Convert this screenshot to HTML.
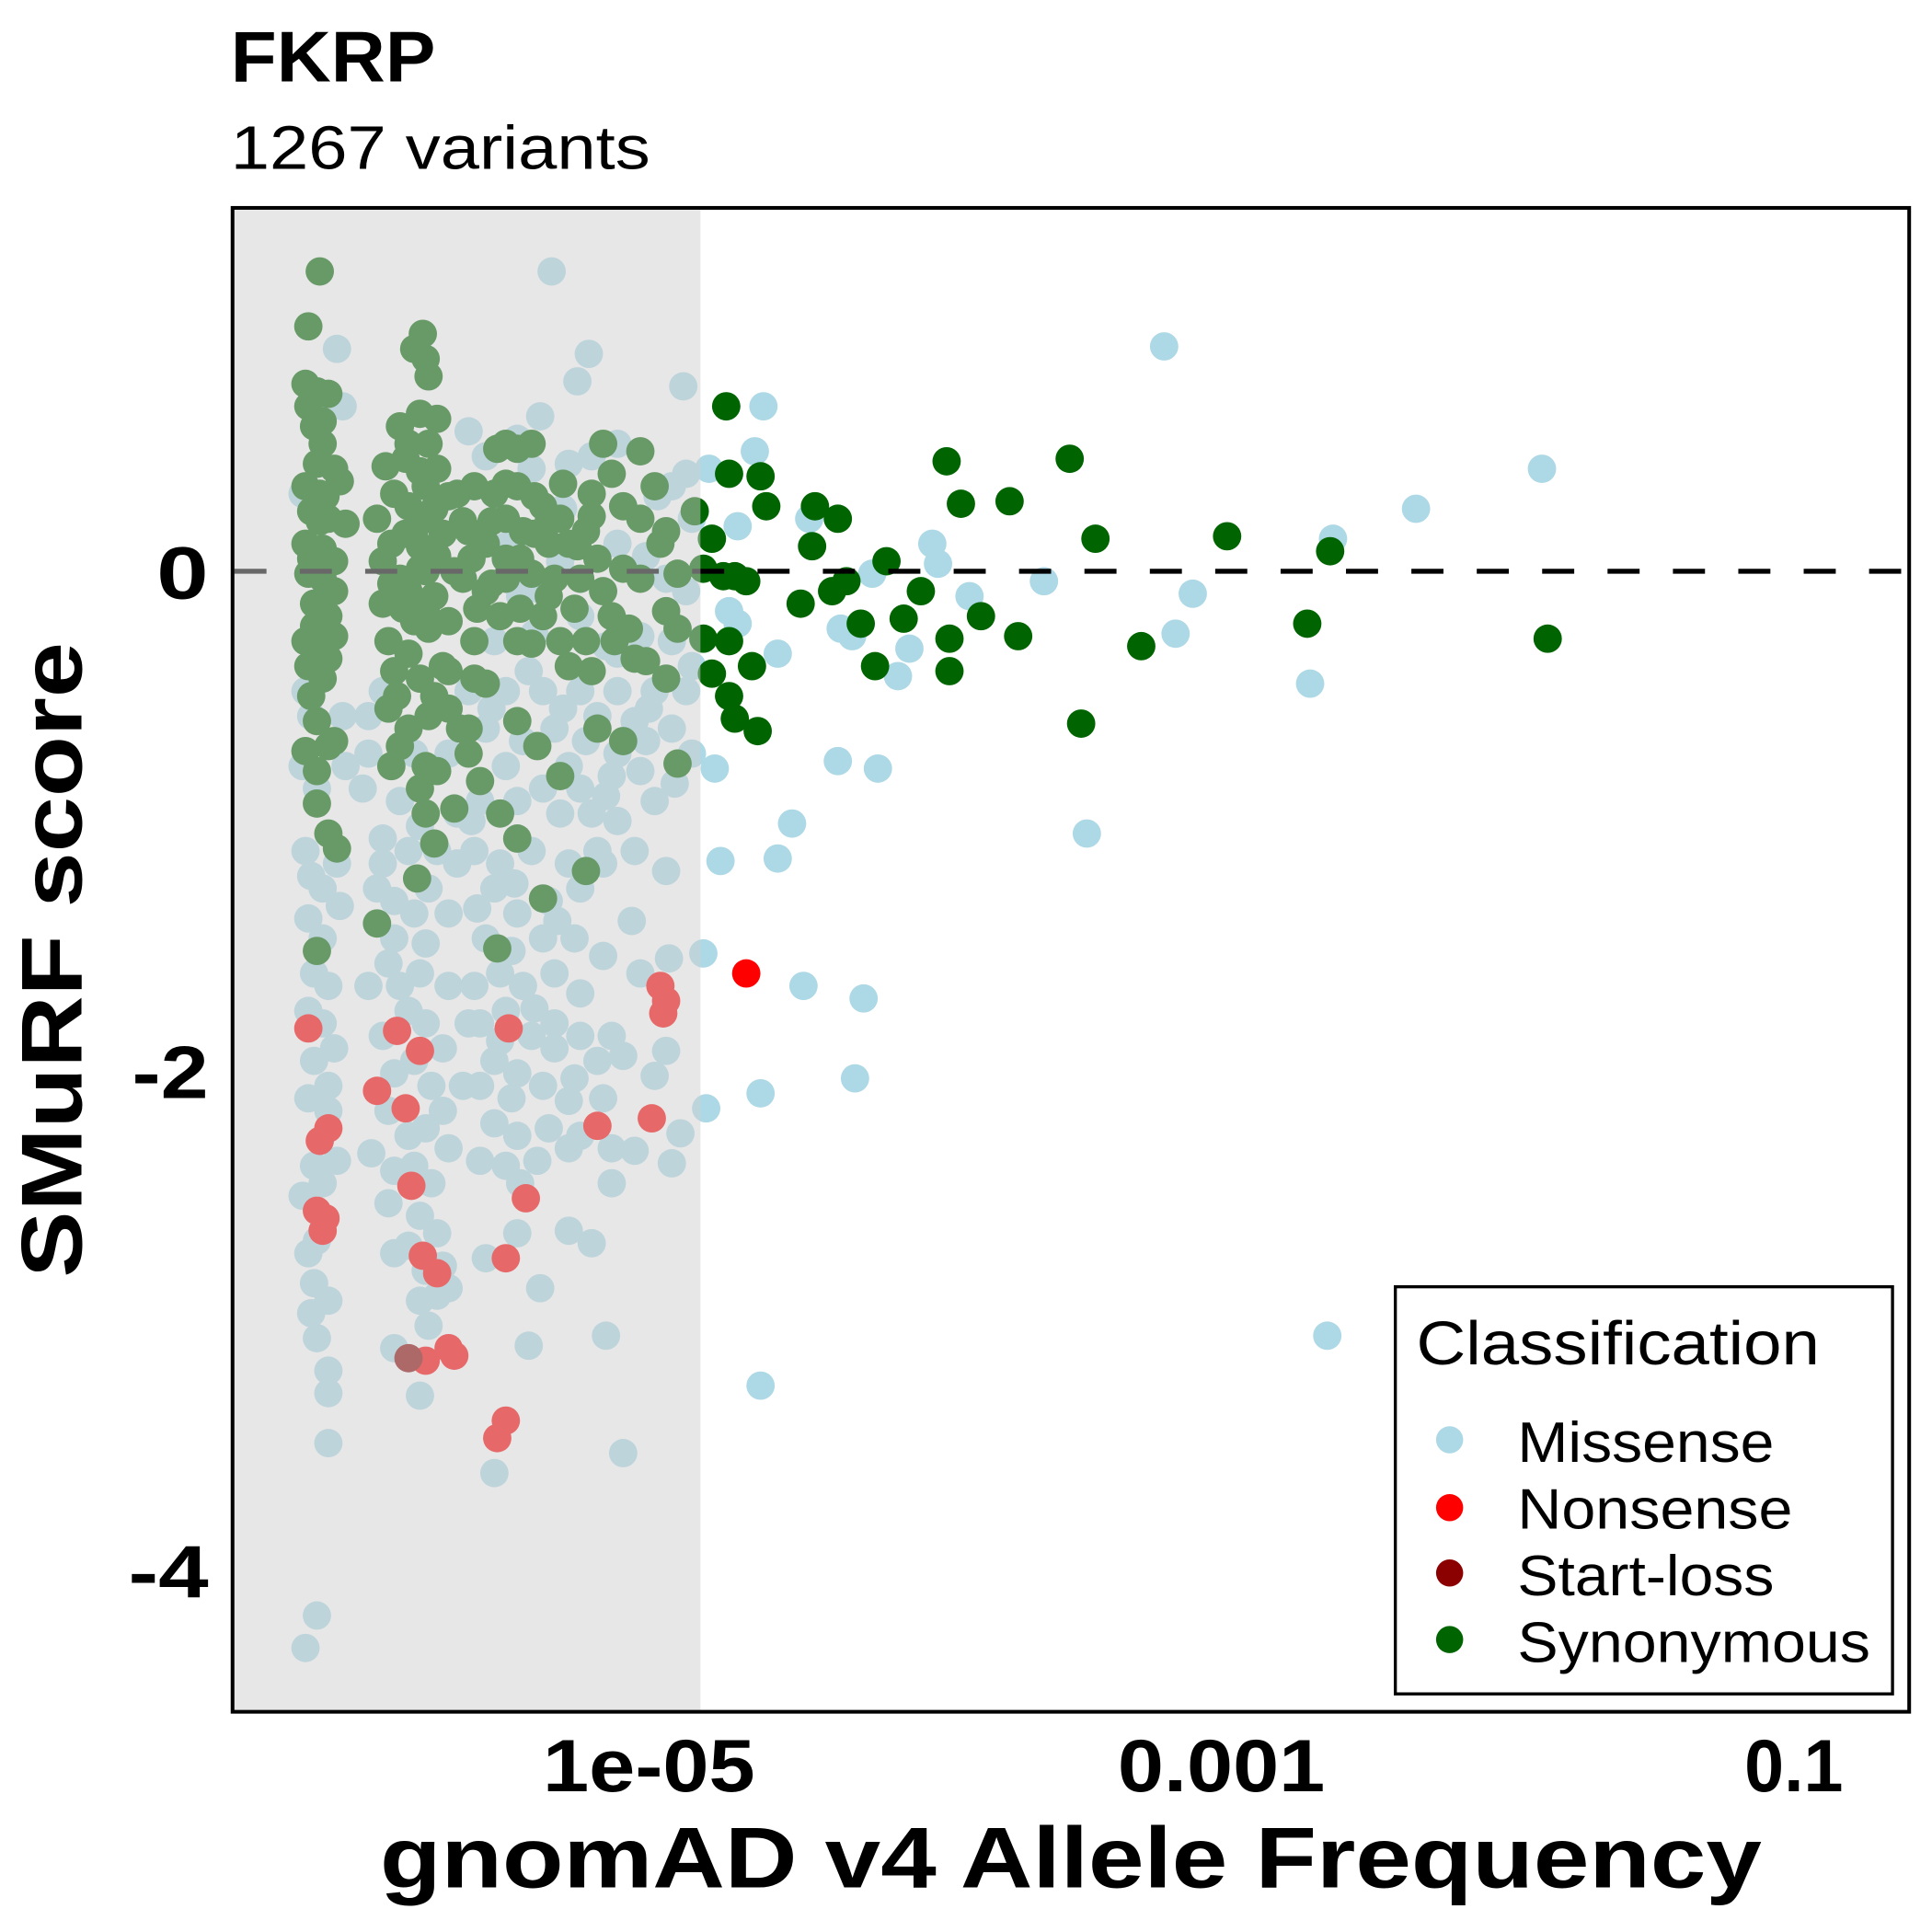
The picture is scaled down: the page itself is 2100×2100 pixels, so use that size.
<!DOCTYPE html>
<html><head><meta charset="utf-8"><style>
html,body{margin:0;padding:0;background:#fff;}
svg{display:block;font-family:"Liberation Sans",sans-serif;}
</style></head>
<body>
<svg id="chart" xmlns="http://www.w3.org/2000/svg" width="2100" height="2100" viewBox="0 0 1566 1566">
<rect x="0" y="0" width="1566" height="1566" fill="#fff"/>
<text x="187" y="66" font-size="58" font-weight="bold" textLength="166" lengthAdjust="spacingAndGlyphs">FKRP</text>
<text x="187" y="137" font-size="50" textLength="340" lengthAdjust="spacingAndGlyphs">1267 variants</text>
<g id="marks"></g>
<rect x="188.5" y="168.5" width="1359" height="1219" fill="none" stroke="#000" stroke-width="3"/>
<g id="axes"></g>
<g>
<rect x="1131" y="1043" width="403" height="330" fill="#fff" stroke="#000" stroke-width="2.5"/>
<text x="1148" y="1106" font-size="50" textLength="327" lengthAdjust="spacingAndGlyphs">Classification</text>
<circle cx="1175" cy="1167" r="11" fill="#add8e6"/>
<text x="1230" y="1185" font-size="46" textLength="208" lengthAdjust="spacingAndGlyphs">Missense</text>
<circle cx="1175" cy="1222" r="11" fill="#ff0000"/>
<text x="1230" y="1239" font-size="46" textLength="223" lengthAdjust="spacingAndGlyphs">Nonsense</text>
<circle cx="1175" cy="1275" r="11" fill="#8b0000"/>
<text x="1230" y="1293" font-size="46" textLength="208" lengthAdjust="spacingAndGlyphs">Start-loss</text>
<circle cx="1175" cy="1329" r="11" fill="#006400"/>
<text x="1230" y="1347" font-size="46" textLength="286" lengthAdjust="spacingAndGlyphs">Synonymous</text>
</g>
</svg>
<script>
// data: [log10 allele frequency, SMuRF score]
const missense = [
[-4.73,0.66],[-3.20,0.90],[-1.88,0.41],[-2.32,0.25],[-2.61,0.13],[-4.60,0.66],[-4.63,0.48],[-4.79,0.41],[-4.69,0.18],[-4.44,0.21],[-4.01,0.11],[-3.99,0.03],[-3.62,-0.04],[-3.10,-0.09],[-3.88,-0.10],[-3.16,-0.25],[-2.69,-0.45],[-4.29,-0.26],[-4.09,-0.31],[-4.13,-0.42],[-4.33,-0.23],[-4.22,-0.01],[-4.55,-0.33],[-4.77,-0.79],[-4.34,-0.76],[-4.20,-0.79],[-4.50,-1.01],[-4.55,-1.15],[-4.75,-1.16],[-3.47,-1.05],[-4.81,-1.53],[-4.46,-1.66],[-4.25,-1.71],[-4.61,-2.09],[-4.28,-2.03],[-4.80,-2.15],[-2.63,-3.06],[-4.61,-3.26],[-4.72,-0.16],[-4.69,-0.21],
[-6.09,0.89],[-6.07,0.66],[-6.21,0.31],[-6.20,-0.48],[-6.18,-0.58],[-6.21,-0.78],[-6.16,-0.87],[-6.20,-1.12],[-6.18,-1.22],[-6.14,-1.27],[-6.08,-1.34],[-6.19,-1.39],[-6.14,-1.47],[-6.17,-1.61],[-6.12,-1.66],[-6.19,-1.76],[-6.14,-1.81],[-6.10,-1.91],[-6.17,-1.96],[-6.12,-2.06],[-6.19,-2.11],[-6.12,-2.16],[-6.09,-2.36],[-6.17,-2.38],[-6.21,-2.50],[-6.14,-2.45],[-6.19,-2.73],[-6.16,-2.68],[-6.17,-2.85],[-6.12,-2.92],[-6.18,-2.97],[-6.16,-3.07],[-6.12,-3.20],[-6.12,-3.29],[-6.12,-3.49],[-6.16,-4.18],[-6.20,-4.31],[-6.06,-0.78],[-6.07,-0.58],[-6.09,-1.17],
[-5.98,-0.73],[-6.00,-0.87],[-5.93,-1.07],[-5.95,-1.27],[-5.98,-1.66],[-5.91,-1.57],[-5.87,-1.66],[-5.80,-1.61],[-5.93,-1.86],[-5.84,-1.76],[-5.78,-1.81],[-5.89,-2.01],[-5.82,-1.96],[-5.76,-2.06],[-5.91,-2.16],[-5.84,-2.26],[-5.78,-2.23],[-5.72,-2.16],[-5.97,-2.33],[-5.89,-2.40],[-5.82,-2.38],[-5.76,-2.45],[-5.91,-2.53],[-5.80,-2.58],[-5.74,-2.65],[-5.84,-2.70],[-5.78,-2.80],[-5.72,-2.78],[-5.89,-2.73],[-5.80,-2.92],[-5.74,-2.90],[-5.70,-2.87],[-5.77,-3.02],[-5.89,-3.11],[-5.80,-3.30],[-5.93,-1.17],[-5.89,-1.32],[-5.82,-1.37],[-5.77,-1.27],[-5.70,-1.37],[-5.89,-1.47],[-5.78,-1.49],[-5.84,-1.12],[-5.74,-1.12],[-5.67,-1.17],[-5.87,-0.92],[-5.80,-1.02],[-5.98,-0.58],[-5.93,-0.48],[-5.82,-0.73],[-5.70,-0.73],[-5.67,-0.97],[-5.70,-1.66],[-5.63,-1.81],[-5.65,-2.06],[-5.70,-2.31],
[-5.63,0.56],[-5.57,0.46],[-5.46,0.53],[-5.38,0.62],[-5.34,1.20],[-5.25,0.76],[-5.21,0.87],[-4.88,0.74],[-5.41,0.41],[-5.28,0.43],[-5.20,0.46],[-5.11,0.51],[-4.92,0.34],[-4.87,0.39],[-4.85,0.21],[-5.31,0.04],[-5.37,-0.08],[-5.11,0.11],[-5.01,0.06],[-4.94,-0.03],[-4.87,-0.08],[-5.54,-0.28],[-5.24,-0.18],[-5.11,-0.33],[-5.03,-0.26],[-4.92,-0.28],[-4.85,-0.38],[-5.63,-0.48],[-5.50,-0.48],[-5.37,-0.48],[-5.24,-0.48],[-5.11,-0.48],[-4.98,-0.48],[-4.87,-0.48],[-5.57,-0.63],[-5.44,-0.68],[-5.33,-0.63],[-5.22,-0.68],[-5.11,-0.73],[-5.01,-0.68],[-4.92,-0.63],[-4.85,-0.73],[-5.50,-0.78],[-5.37,-0.87],[-5.24,-0.87],[-5.13,-0.82],[-5.03,-0.80],[-4.91,-0.85],[-5.59,-0.92],[-5.46,-0.92],[-5.31,-0.97],[-5.20,-0.97],[-5.11,-1.00],[-5.61,-1.12],[-5.52,-1.17],[-5.41,-1.12],[-5.28,-1.17],[-5.18,-1.12],[-5.54,-1.27],[-5.46,-1.37],[-5.35,-1.32],[-5.24,-1.27],[-5.16,-1.17],[-5.57,-1.47],[-5.48,-1.52],[-5.37,-1.47],[-5.26,-1.47],[-5.16,-1.54],[-5.61,-1.66],[-5.52,-1.61],[-5.44,-1.66],[-5.33,-1.61],[-5.24,-1.69],[-5.03,-1.61],[-5.59,-1.81],[-5.50,-1.76],[-5.41,-1.86],[-5.33,-1.81],[-5.24,-1.86],[-5.13,-1.86],[-5.54,-1.96],[-5.46,-2.01],[-5.33,-1.91],[-5.18,-1.96],[-5.09,-1.94],[-4.94,-1.92],[-5.59,-2.06],[-5.48,-2.11],[-5.37,-2.06],[-5.26,-2.03],[-5.16,-2.11],[-4.98,-2.02],[-5.54,-2.21],[-5.46,-2.26],[-5.35,-2.23],[-5.24,-2.26],[-5.13,-2.31],[-5.05,-2.32],[-5.59,-2.36],[-5.50,-2.38],[-5.39,-2.36],[-5.28,-2.31],[-4.92,-2.37],[-4.89,-2.25],[-5.28,-2.64],[-5.20,-2.69],[-5.46,-2.65],[-5.38,-2.87],[-5.42,-3.10],[-5.15,-3.06],[-5.09,-3.53],[-5.54,-3.61],[-5.57,-2.75],[-4.94,-1.20],[-4.98,-0.92],[-5.05,-1.12],[-5.72,-1.91],[-5.13,-2.45],[-5.05,-0.60],[-5.15,-0.30],[-5.40,-0.25],[-5.30,0.25],[-5.50,0.10],[-4.97,0.30],[-5.06,-1.40],[-4.93,-1.55],[-5.45,-0.10],
[-5.55,-0.55],[-5.30,-0.55],[-5.18,-0.58],[-5.00,-0.55],[-5.42,-0.40],[-5.28,-0.78],[-5.15,-0.90],[-5.47,-1.25],[-5.32,-1.40],[-5.40,-1.75],[-5.52,-1.88],[-5.28,-2.12],[-5.45,-2.45],[-5.60,-1.35],[-5.62,-1.00]
];
const synonymous = [
[-4.73,0.66],[-4.72,0.39],[-4.61,0.38],[-4.59,0.26],[-4.84,0.24],[-4.78,0.13],[-4.42,0.26],[-4.34,0.21],[-4.43,0.10],[-4.17,0.04],[-3.96,0.44],[-3.91,0.27],[-3.74,0.28],[-3.53,0.45],[-3.44,0.13],[-2.98,0.14],[-2.62,0.08],[-4.81,0.01],[-4.74,-0.02],[-4.70,-0.02],[-4.66,-0.04],[-4.47,-0.13],[-4.36,-0.08],[-4.31,-0.04],[-4.05,-0.08],[-4.26,-0.21],[-4.11,-0.19],[-3.84,-0.18],[-3.71,-0.26],[-3.95,-0.27],[-4.21,-0.38],[-3.95,-0.40],[-3.28,-0.30],[-2.70,-0.21],[-1.86,-0.27],[-4.81,-0.27],[-4.72,-0.28],[-4.78,-0.41],[-4.64,-0.38],[-4.72,-0.50],[-4.70,-0.59],[-4.62,-0.64],[-3.49,-0.61],
[-6.15,1.20],[-6.19,0.98],[-6.20,0.75],[-6.16,0.72],[-6.12,0.71],[-6.19,0.66],[-6.17,0.58],[-6.14,0.51],[-6.16,0.43],[-6.10,0.41],[-6.20,0.34],[-6.15,0.31],[-6.08,0.36],[-6.18,0.24],[-6.12,0.21],[-6.06,0.19],[-6.20,0.11],[-6.14,0.09],[-6.10,0.04],[-6.19,-0.01],[-6.14,-0.03],[-6.10,-0.08],[-6.17,-0.13],[-6.12,-0.18],[-6.20,-0.28],[-6.15,-0.31],[-6.10,-0.26],[-6.19,-0.38],[-6.14,-0.43],[-6.16,-0.60],[-6.12,-0.70],[-6.20,-0.72],[-6.16,-0.80],[-6.10,-0.68],[-6.16,-0.93],[-6.12,-1.05],[-6.09,-1.11],[-6.16,-1.52],
[-6.15,0.20],[-6.18,0.05],[-6.13,-0.10],[-6.17,-0.22],[-6.12,-0.35],[-6.18,-0.50],[-6.14,0.60],[-6.13,0.30],
[-5.79,0.95],[-5.82,0.89],[-5.78,0.85],[-5.77,0.78],[-5.87,0.58],[-5.80,0.63],[-5.74,0.61],[-5.77,0.51],[-5.84,0.51],[-5.92,0.42],[-5.89,0.31],[-5.95,0.21],[-5.84,0.26],[-5.78,0.34],[-5.74,0.41],[-5.90,0.11],[-5.82,0.16],[-5.77,0.21],[-5.93,0.04],[-5.87,-0.03],[-5.80,0.01],[-5.74,0.06],[-5.93,-0.13],[-5.84,-0.08],[-5.78,-0.16],[-5.91,-0.28],[-5.84,-0.33],[-5.77,-0.23],[-5.89,-0.40],[-5.80,-0.43],[-5.72,-0.38],[-5.91,-0.55],[-5.84,-0.63],[-5.77,-0.58],[-5.87,-0.70],[-5.78,-0.78],[-5.90,-0.78],[-5.80,-0.87],[-5.74,-0.80],[-5.78,-0.97],[-5.75,-1.09],[-5.95,-1.41],[-5.81,-1.23],[-5.68,-0.95],[-5.66,-0.63],[-5.63,-0.63],[-5.59,-0.84],
[-5.85,0.45],[-5.80,0.40],[-5.75,0.25],[-5.85,0.15],[-5.80,0.10],[-5.72,0.15],[-5.86,-0.15],[-5.75,-0.10],[-5.70,-0.20],[-5.88,-0.50],[-5.75,-0.50],[-5.70,-0.55],[-5.82,-0.20],[-5.78,0.00],[-5.68,0.00],[-5.90,-0.05],[-5.70,0.30],[-5.65,0.20],[-5.62,0.05],[-5.60,-0.15],
[-5.67,0.31],[-5.61,0.34],[-5.54,0.31],[-5.50,0.51],[-5.41,0.51],[-5.46,0.34],[-5.37,0.26],[-5.31,0.21],[-5.63,0.16],[-5.57,0.11],[-5.50,0.21],[-5.44,0.16],[-5.35,0.11],[-5.28,0.11],[-5.22,0.16],[-5.16,0.51],[-5.13,0.39],[-5.20,0.31],[-5.09,0.26],[-5.03,0.21],[-5.03,0.48],[-4.98,0.34],[-4.94,0.16],[-4.90,-0.01],[-5.65,-0.03],[-5.57,-0.08],[-5.50,-0.03],[-5.41,-0.01],[-5.33,-0.03],[-5.24,-0.03],[-5.16,-0.08],[-5.09,0.01],[-5.03,-0.03],[-4.96,0.11],[-5.61,-0.28],[-5.52,-0.18],[-5.46,-0.28],[-5.37,-0.18],[-5.31,-0.28],[-5.22,-0.28],[-5.13,-0.18],[-5.07,-0.23],[-5.41,-0.29],[-5.28,-0.38],[-5.20,-0.40],[-5.01,-0.36],[-4.94,-0.16],[-4.90,-0.23],[-4.94,-0.43],[-5.61,-0.43],[-5.57,-0.45],[-5.70,-0.40],[-5.46,-0.60],[-5.39,-0.70],[-5.31,-0.82],[-5.18,-0.63],[-5.09,-0.68],[-4.90,-0.77],[-5.52,-0.97],[-5.46,-1.07],[-5.37,-1.31],[-5.22,-1.20],[-5.53,-1.51],[-5.63,-0.73],[-5.53,0.49],[-5.46,0.49],
[-5.55,0.20],[-5.50,0.35],[-5.45,0.05],[-5.40,0.30],[-5.35,0.20],[-5.30,0.35],[-5.25,0.10],[-5.50,0.05],[-5.40,0.15],[-5.55,-0.05],[-5.35,-0.10],[-5.26,-0.15],[-5.45,-0.15],[-5.18,0.05],[-5.12,-0.28],[-5.05,-0.35],[-5.20,0.22]
];
const nonsense = [
[-4.66,-1.61],[-6.19,-1.83],[-5.88,-1.84],[-5.80,-1.92],[-5.49,-1.83],[-5.95,-2.08],[-5.85,-2.15],[-6.12,-2.23],[-6.15,-2.28],[-5.18,-2.22],[-4.99,-2.19],[-5.83,-2.46],[-5.43,-2.51],[-6.16,-2.56],[-6.13,-2.59],[-6.14,-2.64],[-5.79,-2.74],[-5.74,-2.81],[-5.50,-2.75],[-5.78,-3.16],[-5.70,-3.11],[-5.68,-3.14],[-5.50,-3.40],[-5.53,-3.47],[-4.96,-1.66],[-4.94,-1.72],[-4.95,-1.77]
];
const startLoss = [[-5.84,-3.15]];
const yTicks = [0,-2,-4];
const yTickLabels = ["0","-2","-4"];
const xTicks = [-5,-3,-1];
const xTickLabels = ["1e-05","0.001","0.1"];
const shadeLimit = -4.82; // log10 AF below which region is shaded
const refLine = 0;

const NS = "http://www.w3.org/2000/svg";
const X = l => 990 + (l + 3) * 232;
const Y = s => 463 - 202.5 * s;
const marks = document.getElementById('marks');
const axes = document.getElementById('axes');
function mk(tag, attrs, parent) {
  const e = document.createElementNS(NS, tag);
  for (const k in attrs) e.setAttribute(k, attrs[k]);
  parent.appendChild(e);
  return e;
}
function drawSeries(arr, color, name) {
  arr.forEach(d => {
    const c = mk('circle', {cx: X(d[0]), cy: Y(d[1]), r: 11.5, fill: color}, marks);
    
    
  });
}
drawSeries(missense, '#add8e6', 'missense-point');
drawSeries(synonymous, '#006400', 'synonymous-point');
drawSeries(nonsense, '#ff0000', 'nonsense-point');
drawSeries(startLoss, '#8b0000', 'start-loss-point');

const hl = mk('line', {x1: 190, x2: 1546, y1: Y(refLine), y2: Y(refLine), stroke: '#000', 'stroke-width': 4, 'stroke-dasharray': '26 27'}, marks);



const shade = mk('rect', {x: 190, y: 170, width: X(shadeLimit) - 190, height: 1216, fill: 'rgb(208,208,208)', 'fill-opacity': 0.5}, marks);



const yW = [42, 62, 65];
yTicks.forEach((v, i) => {
  const t = mk('text', {x: 169, y: Y(v) + 22, 'font-size': 60, 'font-weight': 'bold', 'text-anchor': 'end', textLength: yW[i], lengthAdjust: 'spacingAndGlyphs'}, axes);
  t.textContent = yTickLabels[i];
  
  
});
const xW = [172, 168, 80];
xTicks.forEach((v, i) => {
  const t = mk('text', {x: X(v), y: 1452, 'font-size': 60, 'font-weight': 'bold', 'text-anchor': 'middle', textLength: xW[i], lengthAdjust: 'spacingAndGlyphs'}, axes);
  t.textContent = xTickLabels[i];
  
  
});
const xt = mk('text', {x: 868, y: 1530, 'font-size': 70, 'font-weight': 'bold', 'text-anchor': 'middle', textLength: 1120, lengthAdjust: 'spacingAndGlyphs'}, axes);
xt.textContent = 'gnomAD v4 Allele Frequency';


const yt = mk('text', {x: 0, y: 0, 'font-size': 70, 'font-weight': 'bold', 'text-anchor': 'middle', textLength: 515, lengthAdjust: 'spacingAndGlyphs', transform: 'translate(66,778) rotate(-90)'}, axes);
yt.textContent = 'SMuRF score';


</script>
</body></html>
